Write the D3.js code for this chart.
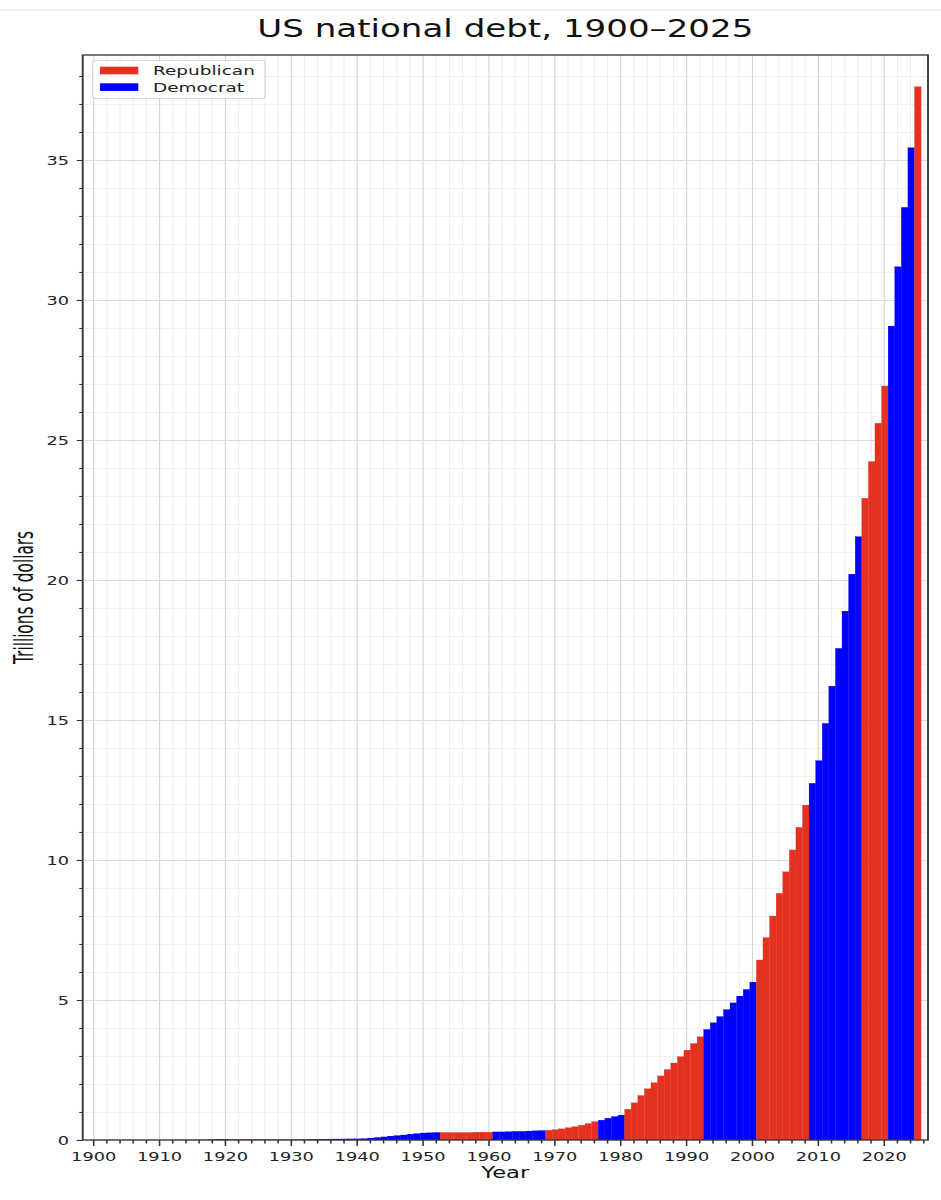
<!DOCTYPE html>
<html>
<head>
<meta charset="utf-8">
<script src="https://cdn.jsdelivr.net/npm/d3@7"></script>
<style>
  body { margin: 0; background: #fff; }
  svg { display: block; }
</style>
</head>
<body>
<div id="chart"></div>
<script>
// Data (trillions of dollars, one bar per year from 1900)
const startYear = 1900;
const debtTrillions = [
  // 1900-1912
  0.002, 0.002, 0.002, 0.002, 0.002, 0.002, 0.002, 0.003, 0.003, 0.003, 0.003, 0.003, 0.003,
  // 1913-1920
  0.003, 0.003, 0.003, 0.003, 0.003, 0.012, 0.025, 0.024,
  // 1921-1932
  0.024, 0.023, 0.022, 0.021, 0.021, 0.020, 0.019, 0.018, 0.017, 0.016, 0.017, 0.019,
  // 1933-1952
  0.022, 0.027, 0.029, 0.034, 0.036, 0.037, 0.040, 0.043,
  0.05, 0.07, 0.09, 0.11, 0.14, 0.16, 0.18, 0.21, 0.23, 0.25, 0.26, 0.27,
  // 1953-1960
  0.27, 0.27, 0.27, 0.27, 0.27, 0.28, 0.28, 0.28,
  // 1961-1968
  0.29, 0.29, 0.30, 0.31, 0.31, 0.32, 0.33, 0.34,
  // 1969-1976
  0.35, 0.37, 0.40, 0.44, 0.48, 0.53, 0.59, 0.66,
  // 1977-1980
  0.71, 0.78, 0.84, 0.89,
  // 1981-1992
  1.10, 1.33, 1.59, 1.83, 2.05, 2.29, 2.52, 2.75, 2.98, 3.21, 3.45, 3.69,
  // 1993-2000
  3.95, 4.19, 4.41, 4.66, 4.90, 5.14, 5.38, 5.64,
  // 2001-2008
  6.43, 7.23, 8.00, 8.81, 9.58, 10.36, 11.17, 11.96,
  // 2009-2016
  12.74, 13.55, 14.88, 16.21, 17.56, 18.89, 20.21, 21.55,
  // 2017-2020
  22.92, 24.23, 25.60, 26.93,
  // 2021-2024
  29.07, 31.19, 33.31, 35.44,
  // 2025
  37.62
];

// Party in the White House, by range of years
const presidencies = [
  { from: 1900, to: 1912, party: "Republican" },
  { from: 1913, to: 1920, party: "Democrat" },
  { from: 1921, to: 1932, party: "Republican" },
  { from: 1933, to: 1952, party: "Democrat" },
  { from: 1953, to: 1960, party: "Republican" },
  { from: 1961, to: 1968, party: "Democrat" },
  { from: 1969, to: 1976, party: "Republican" },
  { from: 1977, to: 1980, party: "Democrat" },
  { from: 1981, to: 1992, party: "Republican" },
  { from: 1993, to: 2000, party: "Democrat" },
  { from: 2001, to: 2008, party: "Republican" },
  { from: 2009, to: 2016, party: "Democrat" },
  { from: 2017, to: 2020, party: "Republican" },
  { from: 2021, to: 2024, party: "Democrat" },
  { from: 2025, to: 2025, party: "Republican" }
];

const partyNames = ["Republican", "Democrat"];
const partyColors = ["#e3321f", "#0000ff"];

const yearTicks = [1900, 1910, 1920, 1930, 1940, 1950, 1960, 1970, 1980, 1990, 2000, 2010, 2020];
const debtTicks = [0, 5, 10, 15, 20, 25, 30, 35];

const titleText = "US national debt, 1900\u20132025";
const xLabel = "Year";
const yLabel = "Trillions of dollars";

// The picture is stretched sideways, so draw in a narrower box and let it stretch
const STRETCH = 1.42;
const W = 941, H = 1200;
const VW = W / STRETCH;
const sx = (px) => px / STRETCH;

const plot = { left: sx(82.7), right: sx(928), top: 55, bottom: 1140 };
const font = "'DejaVu Sans', sans-serif";
const axisColor = "#333";

const data = debtTrillions.map((value, i) => {
  const year = startYear + i;
  const term = presidencies.find(p => year >= p.from && year <= p.to);
  return { year, value, party: term.party };
});

const color = d3.scaleOrdinal().domain(partyNames).range(partyColors);

const svg = d3.select("#chart")
  .append("svg")
  .attr("width", W)
  .attr("height", H)
  .attr("viewBox", `0 0 ${VW} ${H}`)
  .attr("preserveAspectRatio", "none");

// thin separator line at the very top of the screenshot
svg.append("line")
  .attr("x1", 0).attr("x2", VW)
  .attr("y1", 10).attr("y2", 10)
  .attr("stroke", "#e6e6e6")
  .attr("stroke-width", 1);

const xScale = d3.scaleLinear()
  .domain([1898.44, 2026.75])
  .range([plot.left, plot.right]);

const yScale = d3.scaleLinear()
  .domain([0, 38.75])
  .range([plot.bottom, plot.top]);

const plotHeight = plot.bottom - plot.top;
const plotWidth = plot.right - plot.left;

const minorYears = d3.range(1900, 2027, 2).filter(y => y % 10 !== 0);
const minorDebt = d3.range(1, 39, 1).filter(v => v % 5 !== 0);

// Grid lines
const drawXGrid = (values, stroke) => {
  const g = svg.append("g")
    .attr("transform", `translate(0, ${plot.bottom})`)
    .call(d3.axisBottom(xScale).tickValues(values).tickSize(-plotHeight).tickFormat(""));
  g.select(".domain").remove();
  g.selectAll(".tick line").attr("stroke", stroke).attr("stroke-width", 0.8);
};
const drawYGrid = (values, stroke) => {
  const g = svg.append("g")
    .attr("transform", `translate(${plot.left}, 0)`)
    .call(d3.axisLeft(yScale).tickValues(values).tickSize(-plotWidth).tickFormat(""));
  g.select(".domain").remove();
  g.selectAll(".tick line").attr("stroke", stroke).attr("stroke-width", 1);
};

drawXGrid(minorYears, "#efefef");
drawYGrid(minorDebt, "#f0f0f0");
drawXGrid(yearTicks, "#d4d4d4");
drawYGrid(debtTicks.filter(v => v > 0), "#dcdcdc");

// Bars (each year's bar sits a little right of its tick, as in the picture)
svg.append("g")
  .selectAll("rect")
  .data(data)
  .enter()
  .append("rect")
  .attr("x", d => xScale(d.year - 0.3))
  .attr("width", d => xScale(d.year + 0.7) - xScale(d.year - 0.3))
  .attr("y", d => yScale(d.value))
  .attr("height", d => yScale(0) - yScale(d.value))
  .attr("fill", d => color(d.party))
  .attr("stroke", d => color(d.party))
  .attr("stroke-width", 0.2);

// Axes
const xAxisG = svg.append("g")
  .attr("transform", `translate(0, ${plot.bottom})`)
  .call(d3.axisBottom(xScale).tickValues(yearTicks).tickSize(6).tickPadding(6).tickFormat(d3.format("d")));
const xMinorG = svg.append("g")
  .attr("transform", `translate(0, ${plot.bottom})`)
  .call(d3.axisBottom(xScale).tickValues(minorYears).tickSize(3.5).tickFormat(""));

const yAxisG = svg.append("g")
  .attr("transform", `translate(${plot.left}, 0)`)
  .call(d3.axisLeft(yScale).tickValues(debtTicks).tickSize(sx(6)).tickPadding(sx(7.7)));
const yMinorG = svg.append("g")
  .attr("transform", `translate(${plot.left}, 0)`)
  .call(d3.axisLeft(yScale).tickValues(minorDebt).tickSize(sx(3.5)).tickFormat(""));

[xAxisG, xMinorG, yAxisG, yMinorG].forEach(g => {
  g.select(".domain").remove();
  g.selectAll(".tick line").attr("stroke", axisColor).attr("stroke-width", 1.1);
  g.selectAll(".tick text")
    .attr("fill", "#222")
    .style("font-family", font)
    .style("font-size", "12.5px");
});

// Frame round the plot
svg.append("rect")
  .attr("x", plot.left)
  .attr("y", plot.top)
  .attr("width", plotWidth)
  .attr("height", plotHeight)
  .attr("fill", "none")
  .attr("stroke", axisColor)
  .attr("stroke-width", 1.3);

// Legend
const legend = svg.append("g");
legend.append("rect")
  .attr("x", sx(92.7))
  .attr("y", 60.7)
  .attr("width", sx(265) - sx(92.7))
  .attr("height", 37.6)
  .attr("rx", 2)
  .attr("fill", "#fff")
  .attr("fill-opacity", 0.85)
  .attr("stroke", "#d0d0d0")
  .attr("stroke-width", 0.8);

partyNames.forEach((name, i) => {
  const top = 66.7 + i * 16.6;
  legend.append("rect")
    .attr("x", sx(100))
    .attr("y", top)
    .attr("width", sx(38.3))
    .attr("height", 7.6)
    .attr("fill", color(name));
  legend.append("text")
    .attr("x", sx(153))
    .attr("y", top + 8.4)
    .attr("fill", "#222")
    .style("font-family", font)
    .style("font-size", "13px")
    .text(name);
});

// Title and axis labels
svg.append("text")
  .attr("x", (plot.left + plot.right) / 2)
  .attr("y", 37)
  .attr("text-anchor", "middle")
  .attr("fill", "#111")
  .style("font-family", font)
  .style("font-size", "24px")
  .text(titleText);

svg.append("text")
  .attr("x", (plot.left + plot.right) / 2)
  .attr("y", 1178)
  .attr("text-anchor", "middle")
  .attr("fill", "#111")
  .style("font-family", font)
  .style("font-size", "16px")
  .text(xLabel);

svg.append("text")
  .attr("transform", `translate(${sx(33)}, ${(plot.top + plot.bottom) / 2}) rotate(-90)`)
  .attr("text-anchor", "middle")
  .attr("fill", "#111")
  .attr("textLength", 133)
  .attr("lengthAdjust", "spacingAndGlyphs")
  .style("font-family", font)
  .style("font-size", "19px")
  .text(yLabel);
</script>
</body>
</html>
